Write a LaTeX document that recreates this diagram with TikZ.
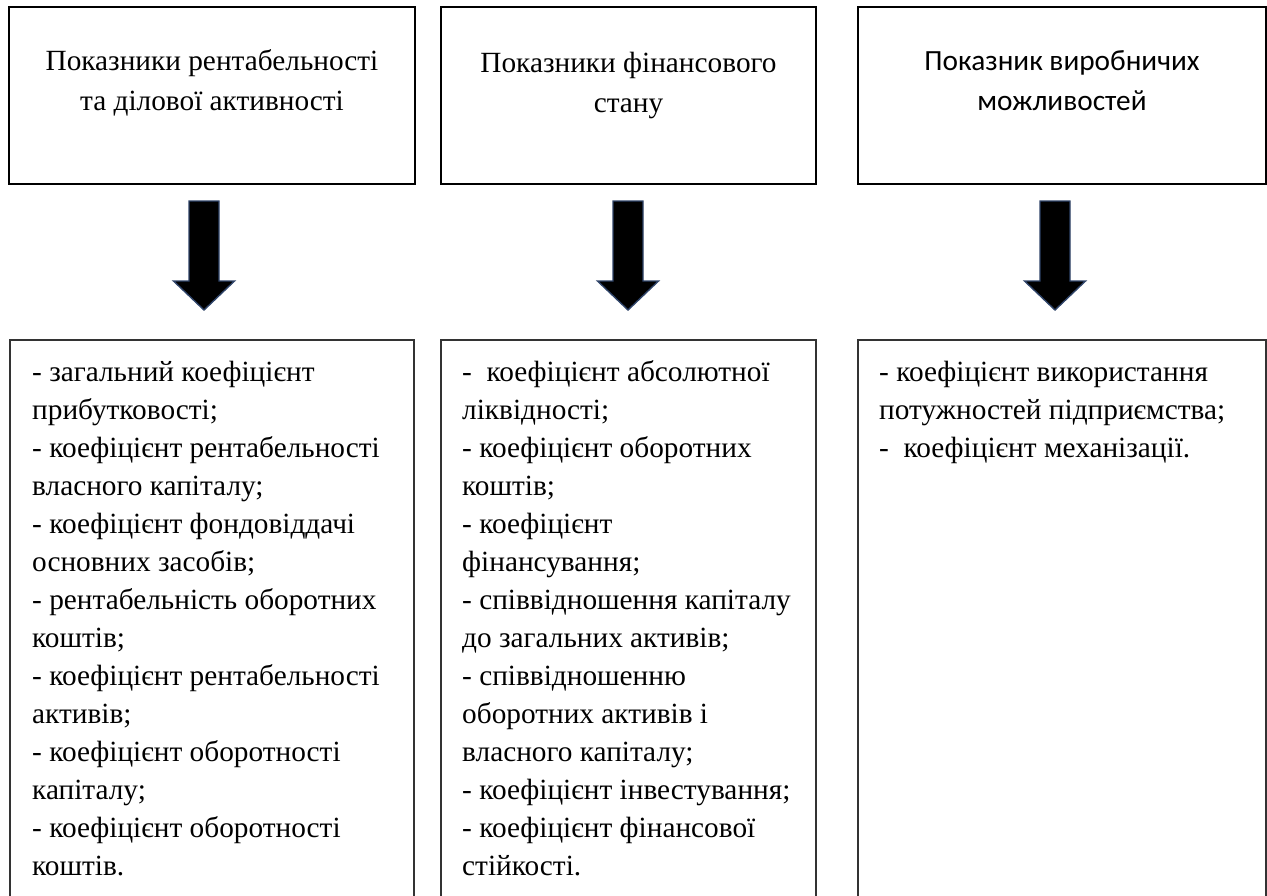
\documentclass[tikz,border=0pt]{standalone}
\usepackage{fontspec}
\setmainfont{Liberation Serif}
\newfontfamily\calib{Carlito}
\begin{document}
\begin{tikzpicture}[x=1pt,y=-1pt,
  topbox/.style={draw=black,line width=2pt},
  botbox/.style={draw=black!80,line width=1.3pt},
  headtext/.style={align=center,inner sep=0pt,font=\fontsize{29.3}{40}\selectfont},
  listtext/.style={align=left,inner sep=0pt,font=\fontsize{29.3}{38}\selectfont},
  blockarrow/.style={fill=black,draw={rgb,255:red,47;green,68;blue,105},line width=1.4pt,line join=miter}
]
\useasboundingbox (0,0) rectangle (1267,895);
\clip (0,0) rectangle (1267,895);
% top boxes
\draw[topbox] (9,7) rectangle (415,184);
\draw[topbox] (441,7) rectangle (816,184);
\draw[topbox] (858,7) rectangle (1266,184);
\node[headtext,anchor=base] (t1) at (212,110) {Показники рентабельності\\та ділової активності};
\node[headtext,anchor=base] (t2) at (628.5,112) {Показники фінансового\\стану};
\node[headtext,anchor=base,font=\calib\fontsize{29.3}{40}\selectfont] (t3) at (1062,110) {Показник виробничих\\можливостей};
% arrows
\foreach \cx in {204,628,1055}{
  \draw[blockarrow] (\cx-15,201) -- (\cx+15,201) -- (\cx+15,281) -- (\cx+30.5,281)
     -- (\cx,310) -- (\cx-30.5,281) -- (\cx-15,281) -- cycle;
}
% bottom boxes
\draw[botbox] (10,340) rectangle (414,920);
\draw[botbox] (441,340) rectangle (816,920);
\draw[botbox] (858,340) rectangle (1266,920);
\node[listtext,anchor=base west] (l1) at (32,875) {- загальний коефіцієнт\\прибутковості;\\- коефіцієнт рентабельності\\власного капіталу;\\- коефіцієнт фондовіддачі\\основних засобів;\\- рентабельність оборотних\\коштів;\\- коефіцієнт рентабельності\\активів;\\- коефіцієнт оборотності\\капіталу;\\- коефіцієнт оборотності\\коштів.};
\node[listtext,anchor=base west] (l2) at (462,875) {-\ \ коефіцієнт абсолютної\\ліквідності;\\- коефіцієнт оборотних\\коштів;\\- коефіцієнт\\фінансування;\\- співвідношення капіталу\\до загальних активів;\\- співвідношенню\\оборотних активів і\\власного капіталу;\\- коефіцієнт інвестування;\\- коефіцієнт фінансової\\стійкості.};
\node[listtext,anchor=base west] (l3) at (879,457) {- коефіцієнт використання\\потужностей підприємства;\\-\ \ коефіцієнт механізації.};
\end{tikzpicture}
\end{document}
